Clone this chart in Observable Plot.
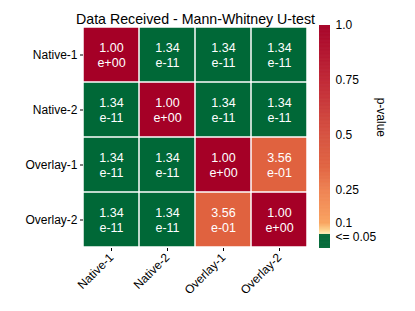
<!DOCTYPE html>
<html><head><meta charset="utf-8">
<script src="https://cdn.jsdelivr.net/npm/d3@7"></script>
<script src="https://cdn.jsdelivr.net/npm/@observablehq/plot@0.6"></script>
<style>
body{margin:0;background:#fff;}
#chart{position:relative;width:415px;height:311px;}
#chart svg{position:absolute;left:0;top:0;}
</style></head><body><div id="chart"></div>
<script>
const title = "Data Received - Mann-Whitney U-test";
const groups = ["Native-1", "Native-2", "Overlay-1", "Overlay-2"];
const pNative1 = [1.00, 1.34e-11, 1.34e-11, 1.34e-11];
const pNative2 = [1.34e-11, 1.00, 1.34e-11, 1.34e-11];
const pOverlay1 = [1.34e-11, 1.34e-11, 1.00, 3.56e-01];
const pOverlay2 = [1.34e-11, 1.34e-11, 3.56e-01, 1.00];
const rows = [pNative1, pNative2, pOverlay1, pOverlay2];

const cbLabel = "p-value";
const cbTicks = [1, 0.75, 0.5, 0.25, 0.1, 0.038];
const cbTickLabels = ["1.0", "0.75", "0.5", "0.25", "0.1", "<= 0.05"];
const colorStops = [0, 0.05, 0.0501, 0.058, 0.07, 0.1, 0.14, 0.25, 0.356, 0.5, 0.75, 1];
const colorRange = ["#006837", "#006837", "#fff2c0", "#fee3a8", "#fccf88", "#f8a45e", "#f6985a", "#ee8050", "#e0623f", "#d5503e", "#bf2433", "#a50026"];

const cells = [];
rows.forEach((r, i) => r.forEach((p, j) => cells.push({y: groups[i], x: groups[j], p})));

function fmt(v) {
  const [m, e] = d3.format(".2e")(v).split("e");
  return m + "\ne" + e[0] + e.slice(1).padStart(2, "0");
}

const colorScale = {type: "linear", domain: colorStops, range: colorRange};
const font = "'Liberation Sans', Arial, sans-serif";

const heat = Plot.plot({
  width: 415, height: 311,
  marginLeft: 83, marginRight: 108, marginTop: 25, marginBottom: 63,
  style: {fontFamily: font, fontSize: "12px", background: "transparent"},
  x: {domain: groups, padding: 0, label: null},
  y: {domain: groups, padding: 0, label: null},
  color: colorScale,
  marks: [
    Plot.cell(cells, {x: "x", y: "y", fill: "p", inset: 0.75}),
    Plot.text(cells, {x: "x", y: "y", text: d => fmt(d.p), fill: "white", fontSize: 12.5, lineHeight: 1.18}),
    Plot.axisY({tickSize: 3, tickPadding: 3, label: null}),
    Plot.axisX({tickSize: 3, tickPadding: 4, tickRotate: -45, label: null}),
    Plot.text([title], {frameAnchor: "top", dy: -12, fontSize: 14.2})
  ]
});

const samples = d3.range(-0.0136, 1.0, 0.002).map(v => ({v, c: Math.min(1, Math.max(0, v + 0.001))}));
const bar = Plot.plot({
  width: 415, height: 311,
  marginLeft: 319, marginRight: 85, marginTop: 25, marginBottom: 63,
  style: {fontFamily: font, fontSize: "12px", background: "transparent"},
  x: {domain: [0, 1], axis: null},
  y: {domain: [-0.0136, 1], label: null},
  color: colorScale,
  marks: [
    Plot.rect(samples, {x1: () => 0, x2: () => 1, y1: "v", y2: d => Math.min(1, d.v + 0.004), fill: "c"}),
    Plot.axisY(cbTicks, {anchor: "right", tickSize: 0, tickPadding: 5, label: null,
      tickFormat: d => cbTickLabels[cbTicks.indexOf(d)]}),
    Plot.text([cbLabel], {frameAnchor: "right", dx: 50, rotate: 90, fontSize: 12})
  ]
});

const root = document.getElementById("chart");
root.appendChild(heat);
root.appendChild(bar);
</script></body></html>
